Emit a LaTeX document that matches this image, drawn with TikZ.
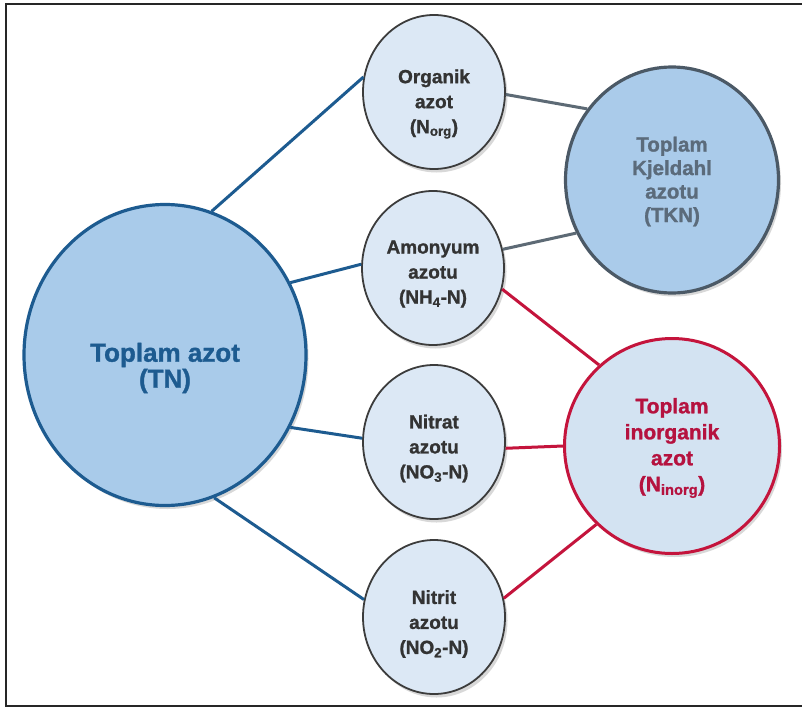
\documentclass[tikz,border=0pt]{standalone}
\usepackage{fontspec}
\setmainfont{Liberation Sans}[BoldFeatures={FakeBold=1.2}]
\usetikzlibrary{shapes.geometric,shadows}
\definecolor{tnblue}{HTML}{1D5B90}
\definecolor{tnfill}{HTML}{A9CBEA}
\definecolor{smfill}{HTML}{DCE8F5}
\definecolor{smdraw}{HTML}{3C3C3C}
\definecolor{smtext}{HTML}{333333}
\definecolor{tkndraw}{HTML}{4B5966}
\definecolor{tknfill}{HTML}{AACBEA}
\definecolor{tkntext}{HTML}{5B6B7B}
\definecolor{inred}{HTML}{C4143C}
\definecolor{infill}{HTML}{D3E3F2}
\definecolor{intext}{HTML}{B5123F}
\begin{document}
\begin{tikzpicture}[x=1pt,y=-1pt,
  every node/.style={align=center},
  bubble/.style={ellipse, inner sep=0pt,
    drop shadow={opacity=0.3, shadow xshift=2.5pt, shadow yshift=-3.5pt}},
  smallbub/.style={bubble, draw=smdraw, line width=1.8pt, fill=smfill,
    minimum width=142pt, minimum height=154pt},
  smalltext/.style={text=smtext, font=\bfseries\fontsize{19}{25}\selectfont},
  tnbub/.style={bubble, draw=tnblue, line width=3.2pt, fill=tnfill,
    minimum width=282pt, minimum height=301pt},
  tntext/.style={text=tnblue, font=\bfseries\fontsize{26}{28}\selectfont},
  tknbub/.style={bubble, draw=tkndraw, line width=3.2pt, fill=tknfill,
    minimum width=213pt, minimum height=226pt},
  tkntext/.style={text=tkntext, font=\bfseries\fontsize{20.5}{23.5}\selectfont},
  inbub/.style={bubble, draw=inred, line width=3pt, fill=infill,
    minimum width=215pt, minimum height=215pt},
  intext/.style={text=intext, font=\bfseries\fontsize{21}{26}\selectfont},
  blueline/.style={draw=tnblue, line width=3pt},
  grayline/.style={draw=tkndraw!90!white, line width=3pt},
  redline/.style={draw=inred, line width=3pt}
]
\useasboundingbox (0,0) rectangle (802,709);
\fill[white] (0,0) rectangle (802,709);
\draw[line width=1.6pt, black!85] (805,4) -- (6,4) -- (6,706) -- (805,706);

\node[tnbub] (tn) at (165,355) {};
\node[smallbub] (org) at (434,92) {};
\node[smallbub] (amo) at (433,268) {};
\node[smallbub] (nat) at (434,442) {};
\node[smallbub] (nit) at (434,617) {};
\node[tknbub] (tkn) at (672,180) {};
\node[inbub] (inorg) at (672,446) {};

\node[tntext] (tnt) at ([yshift=-13pt]tn.center) {Toplam azot\\[-2pt](TN)};
\node[smalltext] (orgt) at ([yshift=-12pt]org.center) {Organik\\azot\\(N\textsubscript{org})};
\node[smalltext] (amot) at ([yshift=-6pt]amo.center) {Amonyum\\azotu\\(NH\textsubscript{4}-N)};
\node[smalltext] (natt) at ([yshift=-6.5pt]nat.center) {Nitrat\\azotu\\(NO\textsubscript{3}-N)};
\node[smalltext] (nitt) at ([yshift=-7pt]nit.center) {Nitrit\\azotu\\(NO\textsubscript{2}-N)};
\node[tkntext] (tknt) at ([yshift=-1.5pt]tkn.center) {Toplam\\Kjeldahl\\azotu\\(TKN)};
\node[intext] (inorgt) at ([yshift=-2pt]inorg.center) {Toplam\\inorganik\\azot\\(N\textsubscript{inorg})};

\draw[blueline] (tn.72.5) -- (org.168);
\draw[blueline] (tn.30) -- (amo.177);
\draw[blueline] (tn.-30) -- (nat.177);
\draw[blueline] (tn.-71.5) -- (nit.166);
\draw[grayline] (org.-2) -- (tkn.140);
\draw[grayline] (amo.15) -- (tkn.209);
\draw[redline] (amo.-17) -- (inorg.132);
\draw[redline] (nat.-5) -- (inorg.180);
\draw[redline] (nit.15) -- (inorg.226);
\end{tikzpicture}
\end{document}
